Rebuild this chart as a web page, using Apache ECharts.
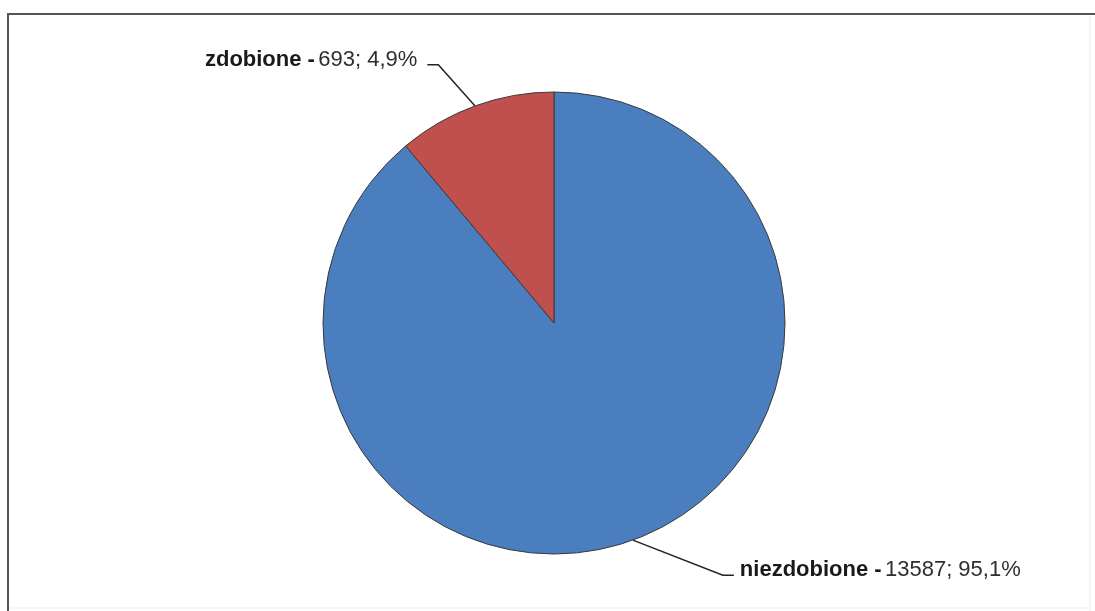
<!DOCTYPE html>
<html>
<head>
<meta charset="utf-8">
<script src="https://cdn.jsdelivr.net/npm/echarts@6/dist/echarts.min.js"></script>
<style>
  html, body { margin: 0; padding: 0; background: #ffffff; }
  #chart { width: 1095px; height: 611px; }
</style>
</head>
<body>
<div id="chart"></div>
<script>
// ---- data ----
const categories = ['niezdobione', 'zdobione'];
const counts = [13587, 693];            // printed counts
const percents = [95.1, 4.9];           // printed percentages
const drawnShares = [88.9, 11.1];       // slice angle shares as drawn in the picture
const sliceColors = ['#4a7ebe', '#c0504d'];
const lineLengths = [[32, 91], [49, 36]];  // leader line lengths per slice

const pieCenter = [554, 323];
const pieRadius = 231;

const chart = echarts.init(document.getElementById('chart'), null, { renderer: 'canvas' });

const fmtPct = v => v.toFixed(1).replace('.', ',') + '%';

const data = categories.map((c, i) => ({
  name: c,
  value: drawnShares[i],
  itemStyle: { color: sliceColors[i] },
  labelLine: { length: lineLengths[i][0], length2: lineLengths[i][1] },
  label: {
    formatter: '{b|' + c + ' -} {n|' + counts[i] + '; ' + fmtPct(percents[i]) + '}'
  }
}));

chart.setOption({
  backgroundColor: '#ffffff',
  animation: false,
  graphic: [
    { type: 'polyline', shape: { points: [[8, 611], [8, 14], [1095, 14]] },
      style: { stroke: '#555555', lineWidth: 2, fill: null } },
    { type: 'line', shape: { x1: 1090, y1: 16, x2: 1090, y2: 611 },
      style: { stroke: '#eeeeee', lineWidth: 1 } },
    { type: 'line', shape: { x1: 10, y1: 608, x2: 1090, y2: 608 },
      style: { stroke: '#eeeeee', lineWidth: 1 } }
  ],
  series: [{
    type: 'pie',
    center: pieCenter,
    radius: pieRadius,
    startAngle: 90,
    clockwise: true,
    avoidLabelOverlap: false,
    itemStyle: { borderColor: '#3a3a3a', borderWidth: 1 },
    emphasis: { disabled: true },
    label: {
      show: true,
      position: 'outside',
      distanceToLabelLine: 5,
      fontFamily: '"Liberation Sans", Arial, sans-serif',
      rich: {
        b: { fontFamily: '"Liberation Sans", Arial, sans-serif', fontSize: 22, fontWeight: 'bold', color: '#1a1a1a', lineHeight: 24 },
        n: { fontFamily: '"Liberation Sans", Arial, sans-serif', fontSize: 22, color: '#2e2e2e', lineHeight: 24 }
      }
    },
    labelLine: {
      show: true,
      smooth: false,
      lineStyle: { color: '#222222', width: 1.5 }
    },
    labelLayout: function (p) {
      const pts = p.labelLinePoints;
      if (!pts) return {};
      const r = p.labelRect;
      const isLeft = pts[0][0] < pieCenter[0];
      const y = r.y + r.height / 2 + 5;
      const x3 = isLeft ? r.x + r.width + 10 : r.x - 6;
      const x2 = isLeft ? x3 + 11 : x3 - 11;
      return { labelLinePoints: [pts[0], [x2, y], [x3, y]] };
    },
    data: data
  }]
});
</script>
</body>
</html>
